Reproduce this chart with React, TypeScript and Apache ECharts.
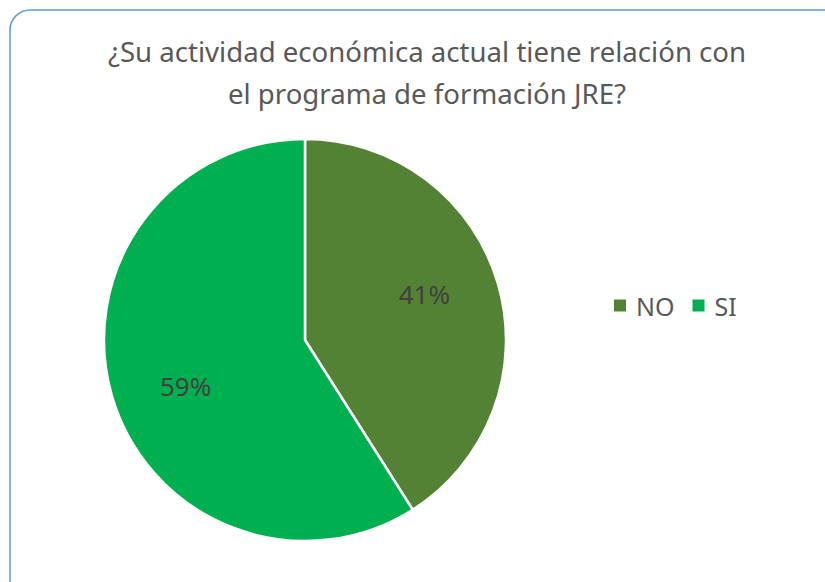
import React, { useEffect, useRef } from "react";
import * as echarts from "echarts";

const titleLines = ["¿Su actividad económica actual tiene relación con", "el programa de formación JRE?"];
const categories = ["NO", "SI"];
const values = [41, 59];
const colors = ["#548235", "#00B050"];

const CX = 305;
const CY = 340;
const R = 201;
const LABEL_R = 128;
const LABEL_SHIFT = (-5 * Math.PI) / 180;

export default function App() {
  const ref = useRef<HTMLDivElement>(null);
  useEffect(() => {
    document.body.style.margin = "0";
    const chart = echarts.init(ref.current!, undefined, { renderer: "svg" });
    const total = values.reduce((a, b) => a + b, 0);
    const mids: number[] = [];
    let acc = 0;
    values.forEach((v) => {
      mids.push(((acc + v / 2) / total) * Math.PI * 2);
      acc += v;
    });
    chart.setOption({
      animation: false,
      backgroundColor: "#ffffff",
      textStyle: { fontFamily: "Noto Sans" },
      title: {
        text: titleLines.join("\n"),
        left: 422,
        textAlign: "center",
        top: 25,
        textStyle: { fontSize: 27.6, fontWeight: "normal", color: "#595959", lineHeight: 42, fontFamily: "Noto Sans" },
      },
      legend: {
        data: categories,
        left: 609,
        top: 288,
        icon: "rect",
        itemWidth: 12,
        itemHeight: 12,
        itemGap: 18,
        itemStyle: { borderWidth: 0 },
        textStyle: { fontSize: 25, color: "#595959", fontFamily: "Noto Sans", padding: [0, 0, 0, 5] },
        selectedMode: false,
      },
      graphic: [
        {
          type: "rect",
          shape: { x: 10, y: 10, width: 840, height: 600, r: 20 },
          style: { fill: "none", stroke: "#5B9BD5", lineWidth: 1.5 },
          z: 100,
          silent: true,
        },
      ],
      series: [
        {
          type: "pie",
          center: [CX, CY],
          radius: R,
          startAngle: 90,
          clockwise: true,
          data: categories.map((c, i) => ({ name: c, value: values[i], itemStyle: { color: colors[i] } })),
          itemStyle: { borderColor: "#ffffff", borderWidth: 2.5 },
          label: {
            show: true,
            position: "inside",
            formatter: (p: any) => `${p.value}%`,
            fontSize: 26,
            color: "#404040",
            fontFamily: "Noto Sans",
          },
          labelLayout: (p: any) => {
            const a = mids[p.dataIndex] + LABEL_SHIFT;
            return { x: CX + LABEL_R * Math.sin(a), y: CY - LABEL_R * Math.cos(a), align: "center", verticalAlign: "middle" };
          },
          labelLine: { show: false },
          silent: true,
        },
      ],
    });
    return () => chart.dispose();
  }, []);
  return <div ref={ref} style={{ width: 825, height: 582 }} />;
}
